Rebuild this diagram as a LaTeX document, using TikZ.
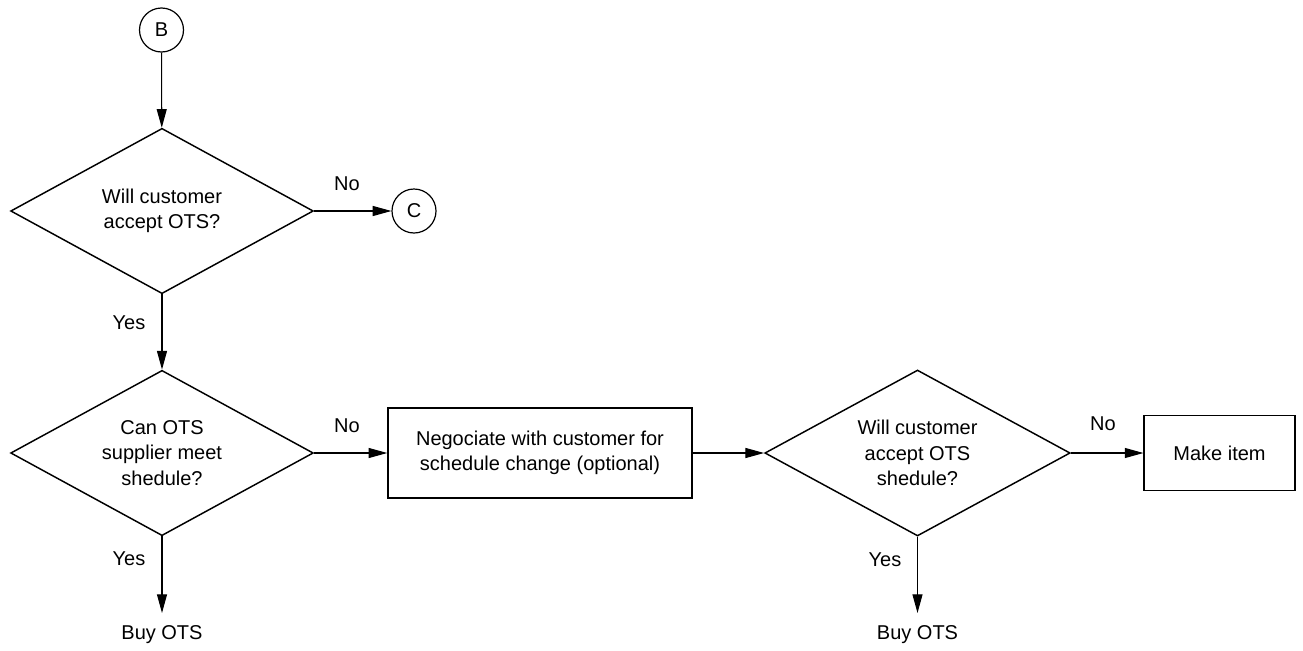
\documentclass[tikz,border=0pt]{standalone}
\usepackage{fontspec}
\setmainfont{Liberation Sans}
\usetikzlibrary{shapes.geometric,arrows.meta}

\begin{document}
\begin{tikzpicture}[x=0.75pt, y=-0.75pt,
    font=\fontsize{15pt}{19pt}\selectfont,
    decision/.style={draw, line width=1.1pt, diamond, aspect=1.83, inner sep=0pt, align=center},
    process/.style={draw, line width=1.1pt, rectangle, inner sep=0pt, align=center},
    connector/.style={draw, line width=0.9pt, circle, inner sep=0pt, minimum size=33pt},
    lbl/.style={inner sep=0pt},
    flow/.style={line width=0.8pt, -{Triangle[length=14pt, width=7.5pt]}}]

    \useasboundingbox (0,0) rectangle (1303,650);

    \node [connector] (B) at (161.5,30) {B};
    \node [decision, minimum width=227pt, minimum height=124pt] (d1) at (162,211) {Will customer\\accept OTS?};
    \node [connector] (C) at (414,211) {C};

    \node [decision, minimum width=227pt, minimum height=124pt] (d2) at (162,453) {Can OTS\\supplier meet\\shedule?};
    \node [process, minimum width=228pt, minimum height=67.5pt] (neg) at (540,453) {Negociate with customer for\\schedule change (optional)};
    \node [decision, minimum width=229pt, minimum height=124.5pt] (d3) at (917.5,453) {Will customer\\accept OTS\\shedule?};
    \node [process, minimum width=113pt, minimum height=56pt] (make) at (1219.5,453) {Make item};

    \node [lbl, inner ysep=9.5pt] (buy1) at (162,635) {Buy OTS};
    \node [lbl, inner ysep=9.5pt] (buy2) at (917.5,635) {Buy OTS};

    \node [lbl] (no1) at (347,184) {No};
    \node [lbl] (yes1) at (129,323) {Yes};
    \node [lbl] (no2) at (347,426) {No};
    \node [lbl] (yes2) at (129,559) {Yes};
    \node [lbl] (no3) at (1103,424) {No};
    \node [lbl] (yes3) at (885,560) {Yes};

    \draw [flow] (B) -- (d1);
    \draw [flow] (d1) -- (C);
    \draw [flow] (d1) -- (d2);
    \draw [flow] (d2) -- (neg);
    \draw [flow] (neg) -- (d3);
    \draw [flow] (d3) -- (make);
    \draw [flow] (d2) -- (buy1);
    \draw [flow] (d3) -- (buy2);

\end{tikzpicture}
\end{document}
